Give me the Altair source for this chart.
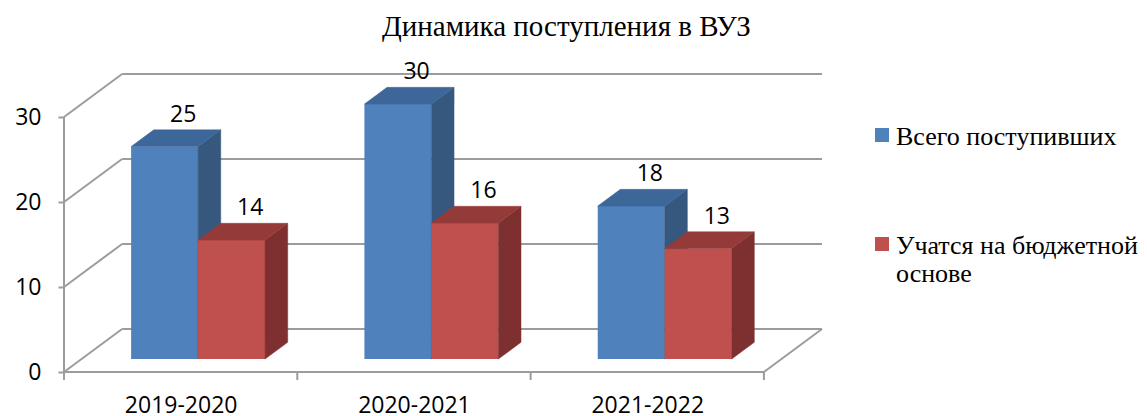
import altair as alt
import pandas as pd

# ---------------- data ----------------
categories = ["2019-2020", "2020-2021", "2021-2022"]
series_names = ["Всего поступивших", "Учатся на бюджетной основе"]
total_values = [25, 30, 18]
budget_values = [14, 16, 13]
y_tick_values = [0, 10, 20, 30]
chart_title = "Динамика поступления в ВУЗ"

# ---------------- style ----------------
front_colors = ["#4F81BD", "#C0504D"]
top_colors = ["#3D6798", "#943B39"]
side_colors = ["#36587F", "#7D302F"]
line_color = "#9C9C9C"
num_font = "Open Sans"
serif_font = "Liberation Serif"

W, H = 758, 298
N = len(categories)
Y_MAX = max(y_tick_values)
DEPTH_X = 0.249   # pseudo-3D wall depth (category units)
DEPTH_Y = 5.06    # pseudo-3D wall depth (value units)
FRONT = 0.30      # bar front plane, fraction of depth
BAR_DEPTH = 0.39  # bar depth, fraction of depth
BAR_W = 0.287     # bar width, category units
LABEL_SHIFT = 0.08

x_scale = alt.Scale(domain=[0, N + DEPTH_X], nice=False, zero=False)
y_scale = alt.Scale(domain=[0, Y_MAX + DEPTH_Y], nice=False, zero=False)

label_expr = "[" + ",".join("'" + c + "'" for c in categories) + "][floor(datum.value)]"
x_axis = alt.Axis(values=[i + 0.5 for i in range(N)], labelExpr=label_expr, ticks=False,
                  domain=False, grid=False, labelFont=num_font, labelFontSize=23,
                  labelColor="black", labelPadding=22, title=None)
y_axis = alt.Axis(values=y_tick_values, domain=False, grid=False, tickSize=6, tickWidth=2,
                  tickColor=line_color, labelFont=num_font, labelFontSize=23,
                  labelColor="black", labelPadding=17, title=None)


def wrap(name, limit=20):
    words, lines, cur = name.split(" "), [], ""
    for w in words:
        if cur and len(cur) + 1 + len(w) > limit:
            lines.append(cur)
            cur = w
        else:
            cur = (cur + " " + w).strip()
    lines.append(cur)
    return lines


legend_expr = ""
for name in series_names:
    lines = wrap(name)
    if len(lines) > 1:
        arr = "[" + ",".join("'" + l + "'" for l in lines) + "]"
        legend_expr += f"datum.label == '{name}' ? {arr} : "
legend_expr += "datum.label"

legend = alt.Legend(title=None, orient="none", legendX=805, legendY=58, padding=0,
                    symbolType="M-1,-2.43H1V-0.43H-1Z", symbolSize=196, symbolStrokeWidth=0,
                    labelFont=serif_font, labelFontSize=26, labelColor="black",
                    labelBaseline="alphabetic", labelExpr=legend_expr, labelLimit=500,
                    labelOffset=1, rowPadding=83)
color_enc = alt.Color("series:N", scale=alt.Scale(domain=series_names, range=front_colors),
                      legend=legend)

# ---------------- derived tables ----------------
bar_rows, side_rows, top_rows = [], [], []
for j, vals in enumerate([total_values, budget_values]):
    for i, (cat, v) in enumerate(zip(categories, vals)):
        x0 = i + 0.5 - BAR_W + j * BAR_W + FRONT * DEPTH_X
        x1 = x0 + BAR_W
        y0 = FRONT * DEPTH_Y
        y1 = v + y0
        bid = f"{j}-{i}"
        bdx, bdy = BAR_DEPTH * DEPTH_X, BAR_DEPTH * DEPTH_Y
        bar_rows.append(dict(id=bid, s=j, series=series_names[j], cat=cat, v=v,
                             x0=x0, x1=x1, y0=y0, y1=y1,
                             lx=(x0 + x1) / 2 + LABEL_SHIFT, ly=y1 + bdy))
        side_rows += [dict(id=bid, s=j, x=x1, lo=y0, hi=y1),
                      dict(id=bid, s=j, x=x1 + bdx, lo=y0 + bdy, hi=y1 + bdy)]
        top_rows += [dict(id=bid, s=j, y=y1, xa=x0, xb=x1),
                     dict(id=bid, s=j, y=y1 + bdy, xa=x0 + bdx, xb=x1 + bdx)]
bars = pd.DataFrame(bar_rows)
sides = pd.DataFrame(side_rows)
tops = pd.DataFrame(top_rows)

seg = []
for t in y_tick_values:
    seg.append(dict(x=0, x2=DEPTH_X, y=t, y2=t + DEPTH_Y))
    seg.append(dict(x=DEPTH_X, x2=N + DEPTH_X, y=t + DEPTH_Y, y2=t + DEPTH_Y))
seg.append(dict(x=0, x2=0, y=0, y2=Y_MAX))
seg.append(dict(x=0, x2=N, y=0, y2=0))
seg.append(dict(x=N, x2=N + DEPTH_X, y=0, y2=DEPTH_Y))
walls = pd.DataFrame(seg)
bounds = pd.DataFrame(dict(b=list(range(N + 1))))

# ---------------- layers ----------------
wall_layer = alt.Chart(walls).mark_rule(color=line_color, strokeWidth=2).encode(
    x=alt.X("x:Q", scale=x_scale, axis=x_axis), x2="x2:Q",
    y=alt.Y("y:Q", scale=y_scale, axis=y_axis), y2="y2:Q")

tick_layer = alt.Chart(bounds).mark_rule(color=line_color, strokeWidth=2).encode(
    x=alt.X("b:Q", scale=x_scale, axis=x_axis), y=alt.value(H), y2=alt.value(H + 8))

layers = [wall_layer, tick_layer]
for j in range(len(series_names)):
    layers.append(alt.Chart(bars[bars.s == j]).mark_rect().encode(
        x=alt.X("x0:Q", scale=x_scale, axis=x_axis), x2="x1:Q",
        y=alt.Y("y0:Q", scale=y_scale, axis=y_axis), y2="y1:Q",
        color=color_enc))
    layers.append(alt.Chart(sides[sides.s == j]).mark_area(
        orient="vertical", color=side_colors[j], stroke=side_colors[j], strokeWidth=0.5).encode(
        x=alt.X("x:Q", scale=x_scale, axis=x_axis),
        y=alt.Y("lo:Q", scale=y_scale, axis=y_axis), y2="hi:Q", detail="id:N"))
    layers.append(alt.Chart(tops[tops.s == j]).mark_area(
        orient="horizontal", color=top_colors[j], stroke=top_colors[j], strokeWidth=0.5).encode(
        y=alt.Y("y:Q", scale=y_scale, axis=y_axis),
        x=alt.X("xa:Q", scale=x_scale, axis=x_axis), x2="xb:Q", detail="id:N"))

label_layer = alt.Chart(bars).mark_text(font=num_font, fontSize=23, color="black",
                                        baseline="middle", dy=-15).encode(
    x=alt.X("lx:Q", scale=x_scale, axis=x_axis),
    y=alt.Y("ly:Q", scale=y_scale, axis=y_axis), text="v:Q")
layers.append(label_layer)

chart = alt.layer(*layers).properties(
    width=W, height=H,
    autosize=alt.AutoSizeParams(type="none"),
    padding={"left": 56, "top": 66, "right": 317, "bottom": 44},
    title=alt.TitleParams(chart_title, font=serif_font, fontSize=29, fontWeight="normal",
                          color="black", anchor="start", frame="group", dx=318, dy=-15),
).configure_view(stroke=None).configure_legend(labelFont=serif_font, labelFontSize=26)

chart.save("out.html", embed_options={"renderer": "svg", "actions": False})
